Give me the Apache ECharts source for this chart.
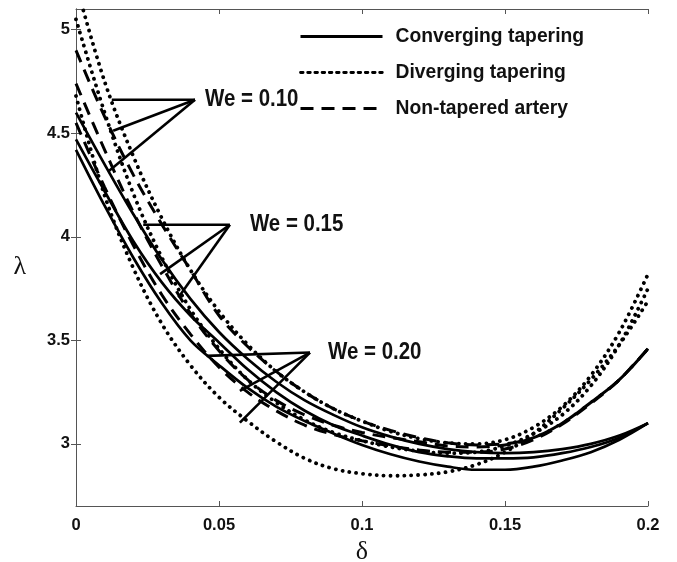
<!DOCTYPE html>
<html><head><meta charset="utf-8">
<script src="https://cdn.jsdelivr.net/npm/echarts@6/dist/echarts.min.js"></script>
<style>html,body{margin:0;padding:0;background:#fff}#c{width:677px;height:562px}</style>
</head><body><div id="c"></div>
<script>
// ---- data ----
const deltas = [0,0.01,0.02,0.03,0.04,0.05,0.06,0.07,0.08,0.09,0.10,0.11,0.12,0.13,0.14,0.15,0.16,0.17,0.18,0.19,0.20];
const xTicks = [0,0.05,0.1,0.15,0.2];
const yTicks = [3,3.5,4,4.5,5];
const legendNames = ['Converging tapering','Diverging tapering','Non-tapered artery'];
const weLabels = ['We = 0.10','We = 0.15','We = 0.20'];

// Diverging tapering (dotted)
const div010 = [5.22,4.75,4.39,4.09,3.84,3.64,3.48,3.35,3.25,3.17,3.11,3.06,3.025,3.005,3.0,3.02,3.08,3.18,3.33,3.54,3.82];
const div015 = [5.05,4.60,4.21,3.90,3.65,3.46,3.31,3.20,3.115,3.055,3.015,2.985,2.965,2.955,2.96,2.99,3.05,3.14,3.28,3.48,3.75];
const div020 = [4.68,4.20,3.85,3.58,3.38,3.225,3.11,3.01,2.93,2.88,2.856,2.846,2.85,2.865,2.90,2.96,3.05,3.17,3.31,3.48,3.69];
// Non-tapered artery (dashed)
const non010 = [4.90,4.58,4.30,4.06,3.84,3.62,3.47,3.35,3.25,3.17,3.11,3.065,3.03,3.005,2.995,3.0,3.03,3.10,3.20,3.31,3.46];
const non015 = [4.74,4.42,4.12,3.86,3.63,3.45,3.31,3.21,3.14,3.09,3.055,3.03,3.01,2.99,2.985,2.995,3.03,3.10,3.20,3.31,3.46];
const non020 = [4.55,4.24,3.96,3.72,3.53,3.37,3.25,3.16,3.09,3.045,3.015,2.99,2.97,2.96,2.96,2.975,3.02,3.095,3.195,3.31,3.46];
// Converging tapering (solid)
const con010 = [4.60,4.35,4.11,3.89,3.70,3.54,3.41,3.30,3.21,3.14,3.08,3.035,3.0,2.975,2.96,2.955,2.96,2.975,3.0,3.04,3.10];
const con015 = [4.47,4.22,3.98,3.78,3.62,3.49,3.36,3.25,3.16,3.09,3.04,2.995,2.96,2.94,2.93,2.93,2.935,2.955,2.985,3.03,3.10];
const con020 = [4.42,4.15,3.90,3.68,3.50,3.38,3.27,3.18,3.11,3.05,2.995,2.95,2.915,2.89,2.875,2.875,2.89,2.92,2.96,3.02,3.10];

// annotation anchors (data coordinates): label position, apex, arrow tips
const annots = [
  {text: weLabels[0], at: [0.0451, 4.662], apex: [0.0416, 4.662], tips: [[0.0125, 4.662],[0.0130, 4.512],[0.0116, 4.319]]},
  {text: weLabels[1], at: [0.0608, 4.058], apex: [0.0538, 4.058], tips: [[0.0235, 4.058],[0.0294, 3.820],[0.0358, 3.707]]},
  {text: weLabels[2], at: [0.0881, 3.441], apex: [0.0818, 3.441], tips: [[0.0457, 3.425],[0.0573, 3.256],[0.0573, 3.103]]}
];

const FONT = '"Liberation Sans", Arial, sans-serif';
const SERIF = '"Liberation Serif", "DejaVu Serif", serif';
const styles = {
  'Converging tapering': {width: 2.7, type: 'solid', cap: 'butt'},
  'Diverging tapering': {width: 3.8, type: [0.1, 6.8], cap: 'round'},
  'Non-tapered artery': {width: 3, type: [13, 8], cap: 'butt'}
};
const groups = [
  [legendNames[0], [con010, con015, con020]],
  [legendNames[1], [div010, div015, div020]],
  [legendNames[2], [non010, non015, non020]]
];
const series = [];
groups.forEach(([name, arrs]) => {
  arrs.forEach(arr => {
    const s = styles[name];
    series.push({
      name, type: 'line', smooth: 0.35, symbol: 'none', silent: true,
      xAxisIndex: 0, yAxisIndex: 0,
      lineStyle: {color: '#000', width: s.width, type: s.type, cap: s.cap},
      itemStyle: {color: '#000'},
      data: deltas.map((d, i) => [d, arr[i]])
    });
  });
});

const chart = echarts.init(document.getElementById('c'), null, {renderer: 'canvas'});
const axisLineStyle = {color: '#555', width: 1};
chart.setOption({
  animation: false,
  backgroundColor: '#fff',
  grid: {left: 76, right: 29, top: 9, bottom: 56, containLabel: false, outerBoundsMode: 'none'},
  legend: {
    data: [
      {name: legendNames[0], lineStyle: {color: '#000', width: 3, type: 'solid'}},
      {name: legendNames[1], lineStyle: {color: '#000', width: 2.8, type: [2.6, 4.6]}},
      {name: legendNames[2], lineStyle: {color: '#000', width: 3, type: [13, 8]}}
    ],
    orient: 'vertical', left: 299, top: 27, padding: 0,
    itemWidth: 82, itemHeight: 16, itemGap: 17,
    itemStyle: {opacity: 0},
    textStyle: {fontFamily: FONT, fontWeight: 'bold', fontSize: 19.3, lineHeight: 16, color: '#111', padding: [0,0,0,8]},
    selectedMode: false
  },
  xAxis: [
    {type: 'value', min: 0, max: 0.2, interval: 0.05, position: 'bottom',
     axisLine: {show: true, lineStyle: axisLineStyle},
     axisTick: {show: true, inside: true, length: 5, lineStyle: axisLineStyle},
     axisLabel: {fontFamily: FONT, fontWeight: 'bold', fontSize: 16.5, color: '#111', margin: 11},
     splitLine: {show: false},
     name: 'δ', nameLocation: 'middle', nameGap: 24,
     nameTextStyle: {fontFamily: SERIF, fontSize: 26, color: '#111'}},
    {type: 'value', min: 0, max: 0.2, interval: 0.05, position: 'top',
     axisLine: {show: true, lineStyle: axisLineStyle},
     axisTick: {show: true, inside: true, length: 5, lineStyle: axisLineStyle},
     axisLabel: {show: false}, splitLine: {show: false}}
  ],
  yAxis: [
    {type: 'value', min: 2.7, max: 5.1, position: 'left',
     axisLine: {show: true, lineStyle: axisLineStyle},
     axisTick: {show: true, inside: true, length: 5, lineStyle: axisLineStyle, customValues: yTicks},
     axisLabel: {fontFamily: FONT, fontWeight: 'bold', fontSize: 16.5, color: '#111', margin: 6, customValues: yTicks},
     splitLine: {show: false},
     name: 'λ', nameLocation: 'middle', nameRotate: 0, nameGap: 50,
     nameTextStyle: {fontFamily: SERIF, fontSize: 26, color: '#111', verticalAlign: 'top', lineHeight: 20}},
    {type: 'value', min: 2.7, max: 5.1, position: 'right',
     axisLine: {show: true, lineStyle: axisLineStyle},
     axisTick: {show: true, inside: true, length: 5, lineStyle: axisLineStyle, customValues: yTicks},
     axisLabel: {show: false}, splitLine: {show: false}}
  ],
  series
});

// annotations drawn in data coordinates
const g = [];
annots.forEach(a => {
  const ap = chart.convertToPixel({gridIndex: 0}, a.apex);
  a.tips.forEach(t => {
    const tp = chart.convertToPixel({gridIndex: 0}, t);
    g.push({type: 'line', shape: {x1: ap[0], y1: ap[1], x2: tp[0], y2: tp[1]},
            style: {stroke: '#000', lineWidth: 2.6}, silent: true, z: 100});
  });
  const lp = chart.convertToPixel({gridIndex: 0}, a.at);
  g.push({type: 'text', x: lp[0], y: lp[1], scaleX: 0.89, silent: true, z: 100,
          style: {text: a.text, fontFamily: FONT, fontWeight: 'bold', fontSize: 23, fill: '#111',
                  textAlign: 'left', textVerticalAlign: 'middle'}});
});
chart.setOption({graphic: g});
</script>
</body></html>
